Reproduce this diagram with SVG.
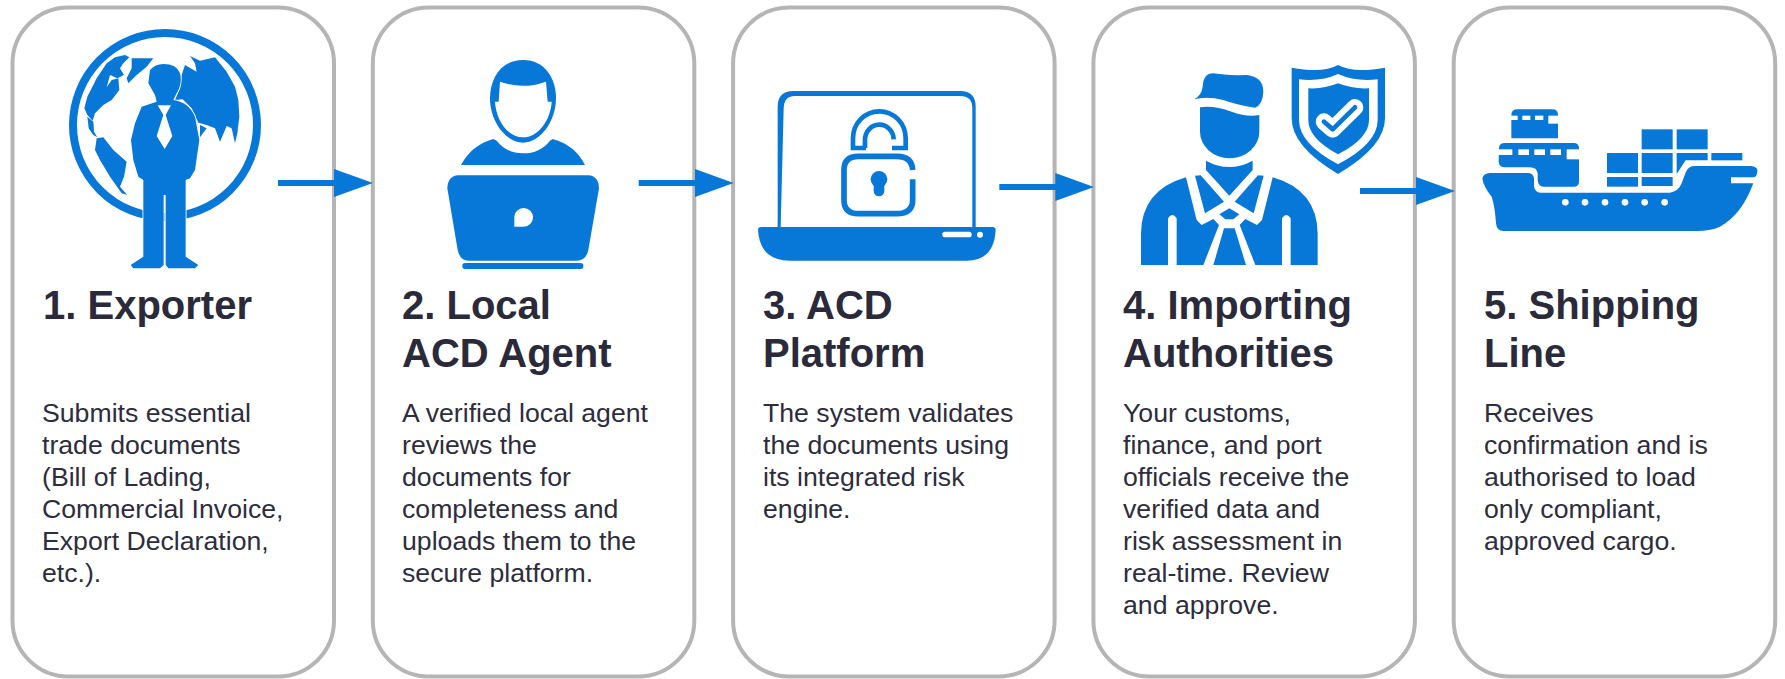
<svg xmlns="http://www.w3.org/2000/svg" width="1785" height="679" viewBox="0 0 1785 679">
<style>
.card{fill:#fff;stroke:#b5b5b5;stroke-width:4}
.ic{fill:#0778d8}
.wh{fill:#fff}
.t{font-family:"Liberation Sans",Arial,sans-serif;font-weight:700;font-size:40px;fill:#2a2a3a}
.b{font-family:"Liberation Sans",Arial,sans-serif;font-size:26.67px;fill:#2d2d3d}
.ln{stroke:#0778d8;stroke-width:6;fill:none}
.st{fill:none;stroke:#0778d8}
</style>
<defs>
<marker id="ah" markerUnits="userSpaceOnUse" markerWidth="39" markerHeight="28" refX="2" refY="14" orient="auto"><polygon points="0,0 39,14 0,28" fill="#0778d8"/></marker>
</defs>
<rect width="1785" height="679" fill="#fff"/>

<g id="node-1">
<rect class="card" x="12.5" y="7.5" width="321.5" height="669" rx="56"/>
<g transform="scale(.33333)">
<circle cx="495" cy="375" r="276" fill="none" stroke="#0778d8" stroke-width="24"/>
<path class="ic" d="M253,325 L262,290 L290,235 L320,190 L345,172 L375,165 L388,172 L370,190 L360,205 L372,225 L352,235 L330,225 L320,262 L335,240 L355,235 L358,270 L335,300 L310,315 L285,340 L278,362 L262,345 Z"/>
<path class="ic" d="M395,175 L460,175 L440,200 L410,225 L385,250 L380,235 L395,205 Z"/>
<path class="ic" d="M262,350 L280,365 L282,395 L292,412 L280,405 L266,385 Z"/>
<path class="ic" d="M290,415 L310,412 L340,450 L380,485 L372,530 L360,560 L382,585 L365,580 L330,530 L300,480 L285,450 Z"/>
<path class="ic" d="M570,168 L600,182 L645,172 L680,215 L705,260 L715,300 L718,350 L712,400 L705,430 L695,385 L680,378 L660,425 L645,385 L620,375 L595,368 L575,325 L548,298 L525,300 L540,265 L545,225 L555,195 L590,215 L585,190 Z"/>
<path class="ic" d="M600,375 L620,385 L600,412 Z"/>
<path class="ic" stroke="#fff" stroke-width="5" paint-order="stroke" d="M490,192 Q530,192 540,220 Q548,250 530,280 L520,300 Q565,305 585,350 L598,420 L585,510 L570,535 L557,540 V770 L595,795 L585,805 H505 L497,795 V585 H491 V795 L480,805 H400 L392,795 L430,770 V540 L415,530 L400,480 L393,420 L405,370 L425,320 L470,305 L465,285 L445,250 L450,210 Q465,192 490,192 Z"/>
<path class="wh" d="M473,316 H513 L497,345 L517,408 L494,447 L470,408 L490,345 Z"/>
</g>
<text class="t"><tspan x="43" y="319">1. Exporter</tspan></text>
<text class="b"><tspan x="42" y="421.7">Submits essential</tspan><tspan x="42" dy="32">trade documents</tspan><tspan x="42" dy="32">(Bill of Lading,</tspan><tspan x="42" dy="32">Commercial Invoice,</tspan><tspan x="42" dy="32">Export Declaration,</tspan><tspan x="42" dy="32">etc.).</tspan></text>
</g>

<g id="node-2">
<rect class="card" x="372.8" y="7.5" width="321.5" height="669" rx="56"/>
<g transform="translate(400 30) scale(.33333)">
<path class="ic" d="M369,90 C435,90 468,145 468,205 C468,275 420,338 369,338 C318,338 270,275 270,205 C270,145 303,90 369,90 Z"/>
<path class="wh" d="M300,155 Q369,180 438,155 L443,215 H455 C452,270 415,322 369,322 C323,322 288,270 285,215 H296 Z"/>
<path class="ic" d="M183,405 Q215,345 280,327 L290,332 Q320,370 369,370 Q420,370 450,332 L458,327 Q525,345 555,405 Z"/>
<path class="ic" d="M175,436 H565 Q596,438 597,475 L565,660 Q558,692 530,692 H205 Q180,692 173,660 L142,475 Q143,438 175,436 Z"/>
<path class="wh" d="M343,590 V562 A28,28 0 1 1 371,590 Z"/>
<rect class="ic" x="187" y="699" width="363" height="18" rx="8"/>
</g>
<text class="t"><tspan x="402" y="319">2. Local</tspan><tspan x="402" y="367">ACD Agent</tspan></text>
<text class="b"><tspan x="402" y="421.7">A verified local agent</tspan><tspan x="402" dy="32">reviews the</tspan><tspan x="402" dy="32">documents for</tspan><tspan x="402" dy="32">completeness and</tspan><tspan x="402" dy="32">uploads them to the</tspan><tspan x="402" dy="32">secure platform.</tspan></text>
</g>

<g id="node-3">
<rect class="card" x="733.1" y="7.5" width="321.5" height="669" rx="56"/>
<g transform="translate(740 70) scale(.33333)">
<path class="ic" d="M113,472 V110 Q113,63 160,63 H660 Q707,63 707,110 V472 H697 V115 Q697,78 660,78 H165 Q132,78 131,115 L122,472 Z"/>
<path class="ic" d="M54,480 Q54,471 64,471 H757 Q767,471 767,480 Q762,572 680,572 H150 Q60,572 54,480 Z"/>
<rect class="wh" x="607" y="485" width="88" height="17" rx="8"/>
<circle class="wh" cx="720" cy="494" r="9"/>
<path class="st" stroke-width="17" d="M518,300 Q516,259 470,259 H355 Q312,259 312,300 V390 Q312,431 355,431 H470 Q518,431 518,390 V328"/>
<path class="st" stroke-width="14" d="M378,234 H339 V205 A78,80 0 0 1 497,205 V234 H456 M375,234 V210 A43,45 0 0 1 461,208"/>
<circle class="ic" cx="417" cy="328" r="25"/>
<rect class="ic" x="401" y="335" width="32" height="44" rx="16"/>
</g>
<text class="t"><tspan x="763" y="319">3. ACD</tspan><tspan x="763" y="367">Platform</tspan></text>
<text class="b"><tspan x="763" y="421.7">The system validates</tspan><tspan x="763" dy="32">the documents using</tspan><tspan x="763" dy="32">its integrated risk</tspan><tspan x="763" dy="32">engine.</tspan></text>
</g>

<g id="node-4">
<rect class="card" x="1093.4" y="7.5" width="321.5" height="669" rx="56"/>
<g transform="translate(1100 30) scale(.33333)">
<path class="ic" d="M283,208 Q305,195 308,170 Q310,130 340,130 Q380,137 440,135 Q490,140 490,185 Q488,225 465,233 Q410,225 370,210 Q320,198 283,208 Z"/>
<path class="ic" d="M300,232 Q340,225 395,245 Q440,262 478,255 V305 A89,80 0 0 1 300,305 Z"/>
<path class="ic" d="M318,392 Q388,430 458,392 V420 L388,497 L318,420 Z"/>
<path class="ic" d="M123,705 V610 Q125,480 258,442 L290,570 L305,585 L340,567 L357,585 L310,705 H230 V565 Q217,545 204,565 V705 Z"/>
<path class="ic" d="M653,705 V610 Q651,480 518,442 L486,570 L471,585 L436,567 L419,585 L466,705 H546 V565 Q559,545 572,565 V705 Z"/>
<path class="ic" d="M372,595 H404 L438,705 H340 Z"/>
<path class="ic" d="M285,437 L302,436 L372,515 L315,550 Z"/>
<path class="ic" d="M491,437 L474,436 L404,515 L461,550 Z"/>
<path class="ic" d="M388,535 L418,553 L400,568 H376 L358,553 Z"/>
<path class="ic" d="M714,105 Q760,130 855,113 V265 Q855,350 714,432 Q575,350 575,265 V113 Q670,130 714,105 Z"/>
<path class="wh" d="M714,132 Q765,155 833,148 V270 Q833,340 714,403 Q597,340 597,270 V148 Q665,155 714,132 Z"/>
<path class="ic" d="M714,160 Q760,178 807,175 V270 Q807,325 714,373 Q625,325 625,270 V175 Q670,178 714,160 Z"/>
<path fill="none" stroke="#fff" stroke-width="50" stroke-linecap="round" stroke-linejoin="round" d="M672,275 L698,298 L765,232"/>
<path class="st" stroke-width="14" stroke-linecap="round" stroke-linejoin="round" d="M672,275 L698,298 L765,232"/>
</g>
<text class="t"><tspan x="1123" y="319">4. Importing</tspan><tspan x="1123" y="367">Authorities</tspan></text>
<text class="b"><tspan x="1123" y="421.7">Your customs,</tspan><tspan x="1123" dy="32">finance, and port</tspan><tspan x="1123" dy="32">officials receive the</tspan><tspan x="1123" dy="32">verified data and</tspan><tspan x="1123" dy="32">risk assessment in</tspan><tspan x="1123" dy="32">real-time. Review</tspan><tspan x="1123" dy="32">and approve.</tspan></text>
</g>

<g id="node-5">
<rect class="card" x="1453.7" y="7.5" width="321.5" height="669" rx="56"/>
<g transform="translate(1440 80) scale(.33333)">
<rect class="ic" x="605" y="148" width="93" height="60"/>
<rect class="ic" x="710" y="148" width="93" height="60"/>
<rect class="ic" x="501" y="219" width="93" height="60"/>
<rect class="ic" x="605" y="219" width="93" height="60"/>
<path class="ic" d="M710,219 H803 V241 H737 L710,282 Z"/>
<rect class="ic" x="814" y="219" width="93" height="22"/>
<rect class="ic" x="501" y="291" width="93" height="29"/>
<rect class="ic" x="605" y="291" width="93" height="27"/>
<path class="ic" d="M214,105 Q214,88 232,88 H337 Q354,88 354,105 V175 H214 Z"/>
<rect class="wh" x="212" y="107" width="21" height="13"/>
<rect class="wh" x="247" y="107" width="24" height="13"/>
<rect class="wh" x="285" y="107" width="25" height="13"/>
<rect class="wh" x="325" y="107" width="31" height="24"/>
<path class="ic" d="M177,205 Q177,189 195,189 H400 Q417,189 417,205 V305 Q417,320 400,320 H310 Q295,320 293,300 V280 Q290,262 270,262 H195 Q177,262 176,245 Z"/>
<rect class="wh" x="175" y="208" width="42" height="17"/>
<rect class="wh" x="235" y="208" width="32" height="17"/>
<rect class="wh" x="283" y="208" width="32" height="17"/>
<rect class="wh" x="331" y="208" width="32" height="17"/>
<rect class="wh" x="380" y="208" width="39" height="30"/>
<path class="ic" stroke="#fff" stroke-width="8" paint-order="stroke" d="M127,295 Q130,280 150,279 H265 Q280,280 282,295 V320 Q285,338 305,338 H690 Q715,335 725,310 L738,275 Q745,258 765,258 H935 Q955,262 952,275 Q950,292 940,292 H873 V310 H940 Q905,405 840,440 Q810,453 770,453 H190 Q170,453 168,430 Q165,380 155,350 Q130,320 127,295 Z"/>
<g class="wh"><circle cx="376" cy="367" r="10"/><circle cx="435" cy="367" r="10"/><circle cx="495" cy="367" r="10"/><circle cx="555" cy="367" r="10"/><circle cx="614" cy="367" r="10"/><circle cx="674" cy="367" r="10"/></g>
</g>
<text class="t"><tspan x="1484" y="319">5. Shipping</tspan><tspan x="1484" y="367">Line</tspan></text>
<text class="b"><tspan x="1484" y="421.7">Receives</tspan><tspan x="1484" dy="32">confirmation and is</tspan><tspan x="1484" dy="32">authorised to load</tspan><tspan x="1484" dy="32">only compliant,</tspan><tspan x="1484" dy="32">approved cargo.</tspan></text>
</g>

<g id="connectors">
<line class="ln" x1="278" y1="183" x2="336" y2="183" marker-end="url(#ah)"/>
<line class="ln" x1="638.7" y1="183" x2="696.7" y2="183" marker-end="url(#ah)"/>
<line class="ln" x1="999.3" y1="187" x2="1057.3" y2="187" marker-end="url(#ah)"/>
<line class="ln" x1="1360" y1="191" x2="1418" y2="191" marker-end="url(#ah)"/>
</g>
</svg>
